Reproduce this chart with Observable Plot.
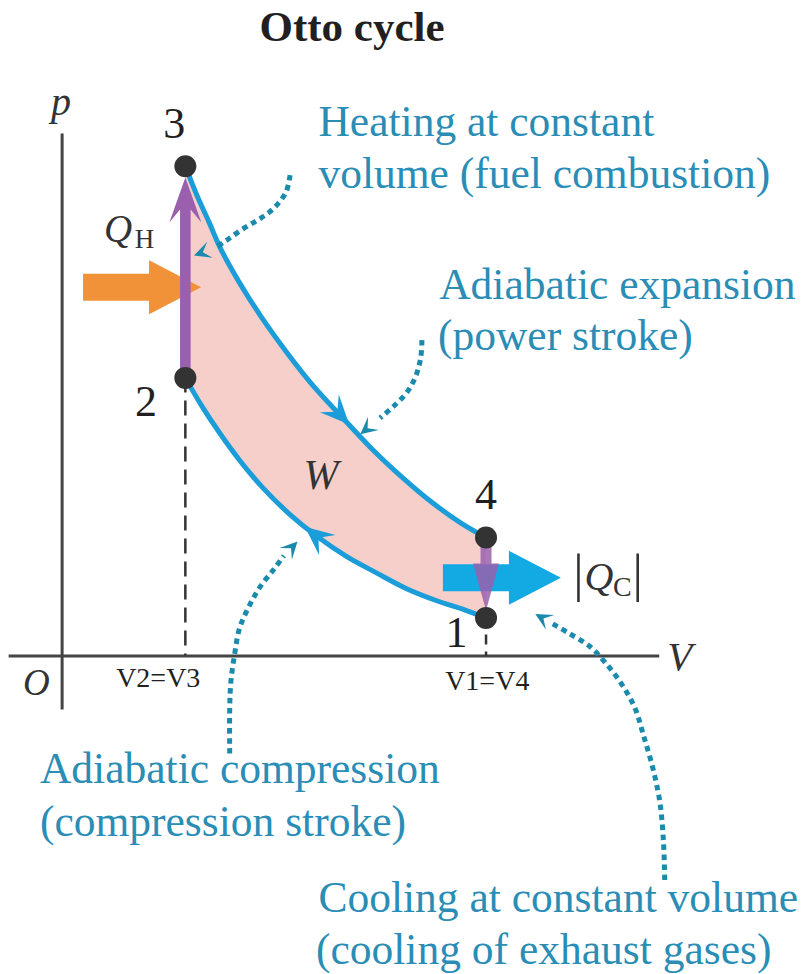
<!DOCTYPE html>
<html>
<head>
<meta charset="utf-8">
<script src="https://cdn.jsdelivr.net/npm/d3@7"></script>
<script src="https://cdn.jsdelivr.net/npm/@observablehq/plot@0.6"></script>
<style>
  html, body { margin: 0; padding: 0; background: #fff; overflow: hidden; }
  #title {
    width: 704px; height: 58px;
    font-family: "Liberation Serif", "Times New Roman", serif;
    font-weight: bold; font-size: 43px; line-height: 53px;
    text-align: center; color: #231f20;
  }
  #chart svg { display: block; }
</style>
</head>
<body>
<div id="title">Otto cycle</div>
<div id="chart"></div>
<script>
// ---------------- data (V and p in arbitrary units) ----------------
const stateLabels = ["1", "2", "3", "4"];
const stateV = [3.44, 1.00, 1.00, 3.44];
const stateP = [0.78, 5.68, 10.00, 2.42];

// adiabatic expansion 3 -> 4
const expansionV = [1.00, 1.09, 1.19, 1.29, 1.44, 1.62, 1.82, 2.04, 2.27, 2.51, 2.76, 3.00, 3.24, 3.44];
const expansionP = [10.00, 9.43, 8.87, 8.30, 7.62, 6.91, 6.21, 5.51, 4.88, 4.24, 3.65, 3.14, 2.71, 2.42];
// adiabatic compression 1 -> 2
const compressionV = [3.44, 3.27, 3.04, 2.80, 2.55, 2.31, 2.07, 1.84, 1.62, 1.44, 1.28, 1.13, 1.00];
const compressionP = [0.78, 0.94, 1.13, 1.37, 1.70, 2.03, 2.44, 2.91, 3.46, 4.00, 4.55, 5.12, 5.68];

// direction markers on the two adiabats
const chevronV = [2.33, 1.97];
const chevronP = [4.73, 2.64];

// heat flow block arrows (start points): Q_H in, |Q_C| out
const heatFlowV = [0.17, 3.09];
const heatFlowP = [7.53, 1.60];
// tips of the constant-volume process arrows
const heatingTipP = 9.77;
const coolingTipP = 0.93;

// dotted leader paths (last point = arrow tip)
const heatingPathV = [1.85, 1.82, 1.76, 1.68, 1.58, 1.46, 1.33, 1.23, 1.07];
const heatingPathP = [9.82, 9.49, 9.26, 9.06, 8.89, 8.71, 8.48, 8.32, 8.18];
const powerPathV = [2.92, 2.91, 2.87, 2.80, 2.69, 2.58, 2.42];
const powerPathP = [6.45, 6.09, 5.72, 5.39, 5.10, 4.86, 4.53];
const compressPathV = [1.36, 1.36, 1.37, 1.40, 1.44, 1.51, 1.60, 1.72, 1.80, 1.91];
const compressPathP = [-1.99, -1.07, -0.51, 0.04, 0.57, 0.98, 1.39, 1.78, 2.05, 2.34];
const coolingPathV = [4.89, 4.88, 4.85, 4.79, 4.72, 4.65, 4.54, 4.41, 4.28, 4.11, 3.98, 3.84];
const coolingPathP = [-4.57, -3.79, -2.97, -2.25, -1.64, -1.07, -0.57, -0.14, 0.20, 0.47, 0.66, 0.86];

// annotation texts
const annotationText = ["Heating at constant", "volume (fuel combustion)", "Adiabatic expansion", "(power stroke)",
                        "Adiabatic compression", "(compression stroke)", "Cooling at constant volume", "(cooling of exhaust gases)"];
const annotationV = [2.08, 2.08, 3.06, 3.05, -0.18, -0.18, 2.08, 2.06];
const annotationP = [10.61, 9.55, 7.30, 6.24, -2.60, -3.68, -5.23, -6.28];

// state number labels
const stateLabelV = [3.20, 0.68, 0.91, 3.44];
const stateLabelP = [0.18, 4.91, 10.57, 3.01];

// axis tick labels
const tickLabels = ["V2=V3", "V1=V4"];
const tickV = [0.78, 3.45];
const tickP = [-0.64, -0.70];

// axis extents
const axisV = [-0.43, 4.85];
const axisP = [-1.10, 10.66];

// ---------------- scales ----------------
const W = 801, H = 916;
const xDomain = [-0.5, 6.0], yDomain = [-6.5, 12.2];
const sx = d3.scaleLinear(xDomain, [0, W]);
const sy = d3.scaleLinear(yDomain, [H, 0]);

const zip = (vs, ps) => vs.map((v, i) => ({v, p: ps[i]}));
const dirAngle = (a, b) => Math.atan2(sx(b.v) - sx(a.v), -(sy(b.p) - sy(a.p))) * 180 / Math.PI;

const states = stateLabels.map((t, i) => ({t, v: stateV[i], p: stateP[i], lv: stateLabelV[i], lp: stateLabelP[i]}));
const expansion = zip(expansionV, expansionP);
const compression = zip(compressionV, compressionP);

// tangent direction on a curve at v (in the direction of the array order)
function tangentAt(curve, v) {
  for (let i = 0; i < curve.length - 1; i++) {
    const a = curve[i], b = curve[i + 1];
    if ((v - a.v) * (v - b.v) <= 0) return dirAngle(a, b);
  }
  return 0;
}
const chevrons = [
  {v: chevronV[0], p: chevronP[0], a: tangentAt(expansion, chevronV[0])},
  {v: chevronV[1], p: chevronP[1], a: tangentAt(compression, chevronV[1])}
];

const leaderPaths = [
  zip(heatingPathV, heatingPathP), zip(powerPathV, powerPathP),
  zip(compressPathV, compressPathP), zip(coolingPathV, coolingPathP)
];
const leaderLines = leaderPaths.map(path => path.slice(0, -1));
const leaderHeads = leaderPaths.map(path => {
  const n = path.length;
  return {v: path[n - 1].v, p: path[n - 1].p, a: dirAngle(path[n - 2], path[n - 1])};
});

const annotations = annotationText.map((t, i) => ({t, v: annotationV[i], p: annotationP[i]}));
const ticks = tickLabels.map((t, i) => ({t, v: tickV[i], p: tickP[i]}));

// ---------------- shapes for Plot.vector ----------------
const blockArrow = {
  draw(c, l) {
    const hl = 52, hw = 27, sw = 13.5;
    c.moveTo(-sw, 0); c.lineTo(-sw, -(l - hl)); c.lineTo(-hw, -(l - hl)); c.lineTo(0, -l);
    c.lineTo(hw, -(l - hl)); c.lineTo(sw, -(l - hl)); c.lineTo(sw, 0); c.closePath();
  }
};
const barbHead = (w, notch) => ({
  draw(c, l) {
    c.moveTo(0, 0); c.lineTo(w, l); c.lineTo(0, l * notch); c.lineTo(-w, l); c.closePath();
  }
});
const barbShaft = {
  draw(c, l) {
    const sw = 5.3, hl = 45, nl = 32, hw = 16;
    c.moveTo(-sw, 0); c.lineTo(-sw, -(l - nl)); c.lineTo(-hw, -(l - hl)); c.lineTo(0, -l);
    c.lineTo(hw, -(l - hl)); c.lineTo(sw, -(l - nl)); c.lineTo(sw, 0); c.closePath();
  }
};
const triShaft = {
  draw(c, l) {
    const sw = 5.5, hl = 47, hw = 13;
    c.moveTo(-sw, 0); c.lineTo(-sw, -(l - hl)); c.lineTo(-hw, -(l - hl)); c.lineTo(0, -l);
    c.lineTo(hw, -(l - hl)); c.lineTo(sw, -(l - hl)); c.lineTo(sw, 0); c.closePath();
  }
};

// ---------------- styles ----------------
const serif = "'Liberation Serif', 'Times New Roman', serif";
const ink = "#231f20";
const curveBlue = "#1b9dd9";
const leaderBlue = "#1a8aad";
const textBlue = "#2a8db6";
const purple = "#9a60ad";

const p2 = stateP[1], p4 = stateP[3];
const upLen = sy(p2) - sy(heatingTipP);
const downLen = sy(coolingTipP) - sy(p4);

const marks = [
  // cycle area
  Plot.line(expansion.concat(compression), {x: "v", y: "p", fill: "#f7cfca", stroke: "none", curve: "linear-closed"}),
  // axes
  Plot.ruleX([0], {y1: axisP[0], y2: axisP[1], stroke: "#444", strokeWidth: 3}),
  Plot.ruleY([0], {x1: axisV[0], x2: axisV[1], stroke: "#444", strokeWidth: 3}),
  // dashed volume markers
  Plot.ruleX([stateV[1]], {y1: stateP[1], y2: 0, stroke: "#333", strokeWidth: 2.5, strokeDasharray: "15,8"}),
  Plot.ruleX([stateV[0]], {y1: stateP[0], y2: 0, stroke: "#333", strokeWidth: 2.5, strokeDasharray: "10,7"}),
  // adiabats
  Plot.line(expansion, {x: "v", y: "p", stroke: curveBlue, strokeWidth: 5, curve: "catmull-rom"}),
  Plot.line(compression, {x: "v", y: "p", stroke: curveBlue, strokeWidth: 5, curve: "catmull-rom"}),
  // heat in (orange)
  Plot.vector([{v: heatFlowV[0], p: heatFlowP[0]}], {x: "v", y: "p", anchor: "start", rotate: 90, length: 118,
    shape: blockArrow, fill: "#f19138", stroke: "none"}),
  // 2 -> 3
  Plot.vector([{v: stateV[1], p: p2}], {x: "v", y: "p", anchor: "start", rotate: 0, length: upLen,
    shape: barbShaft, fill: purple, stroke: "none"}),
  // heat out (cyan)
  Plot.vector([{v: heatFlowV[1], p: heatFlowP[1]}], {x: "v", y: "p", anchor: "start", rotate: 90, length: 118,
    shape: blockArrow, fill: "#13a9e3", stroke: "none"}),
  // 4 -> 1
  Plot.vector([{v: stateV[3], p: p4}], {x: "v", y: "p", anchor: "start", rotate: 180, length: downLen,
    shape: triShaft, fill: purple, fillOpacity: 0.85, stroke: "none"}),
  // direction chevrons
  Plot.vector(chevrons, {x: "v", y: "p", rotate: "a", anchor: "start", length: 29,
    shape: barbHead(13, 0.6), fill: curveBlue, stroke: "none"}),
  // state points
  Plot.dot(states, {x: "v", y: "p", r: 11, fill: "#333", stroke: "none"}),
  // leader lines
  ...leaderLines.map(path => Plot.line(path, {x: "v", y: "p", stroke: leaderBlue, strokeWidth: 5,
    strokeDasharray: "5.5,4.5", strokeLinecap: "butt", curve: "catmull-rom"})),
  Plot.vector(leaderHeads, {x: "v", y: "p", rotate: "a", anchor: "start", length: 17,
    shape: barbHead(8.5, 0.55), fill: leaderBlue, stroke: "none"}),
  // annotation texts
  Plot.text(annotations, {x: "v", y: "p", text: "t", textAnchor: "start", lineAnchor: "bottom",
    fontSize: 43.5, fontFamily: serif, fill: textBlue}),
  // state numbers
  Plot.text(states, {x: "lv", y: "lp", text: "t", textAnchor: "middle", lineAnchor: "bottom",
    fontSize: 44, fontFamily: serif, fill: ink}),
  // tick labels
  Plot.text(ticks, {x: "v", y: "p", text: "t", textAnchor: "middle", lineAnchor: "bottom",
    fontSize: 28, fontFamily: serif, fill: ink}),
  // axis symbols & quantities
  Plot.text(["p"], {x: -0.01, y: 11.04, text: d => d, textAnchor: "middle", lineAnchor: "bottom",
    fontSize: 40, fontStyle: "italic", fontFamily: serif, fill: "#333"}),
  Plot.text(["V"], {x: 4.91, y: -0.29, text: d => d, textAnchor: "start", lineAnchor: "bottom",
    fontSize: 41, fontStyle: "italic", fontFamily: serif, fill: "#333"}),
  Plot.text(["O"], {x: -0.21, y: -0.80, text: d => d, textAnchor: "middle", lineAnchor: "bottom",
    fontSize: 37, fontStyle: "italic", fontFamily: serif, fill: "#333"}),
  Plot.text(["W"], {x: 2.10, y: 3.42, text: d => d, textAnchor: "middle", lineAnchor: "bottom",
    fontSize: 42, fontStyle: "italic", fontFamily: serif, fill: "#333"}),
  // Q_H
  Plot.text(["Q"], {x: 0.34, y: 8.46, text: d => d, textAnchor: "start", lineAnchor: "bottom",
    fontSize: 39, fontStyle: "italic", fontFamily: serif, fill: "#333"}),
  Plot.text(["H"], {x: 0.59, y: 8.34, text: d => d, textAnchor: "start", lineAnchor: "bottom",
    fontSize: 27, fontFamily: serif, fill: "#333"}),
  // |Q_C|
  Plot.text(["|", "|"], {x: [4.19, 4.67], y: [1.32, 1.32], text: d => d, textAnchor: "middle", lineAnchor: "bottom",
    fontSize: 52, fontFamily: serif, fill: "#333"}),
  Plot.text(["Q"], {x: 4.24, y: 1.34, text: d => d, textAnchor: "start", lineAnchor: "bottom",
    fontSize: 40, fontStyle: "italic", fontFamily: serif, fill: "#333"}),
  Plot.text(["C"], {x: 4.47, y: 1.22, text: d => d, textAnchor: "start", lineAnchor: "bottom",
    fontSize: 28, fontFamily: serif, fill: "#333"})
];

const chart = Plot.plot({
  width: W, height: H, margin: 0,
  x: {domain: xDomain, range: [0, W], axis: null},
  y: {domain: yDomain, range: [H, 0], axis: null},
  style: {background: "#fff", overflow: "visible"},
  marks
});
document.getElementById("chart").appendChild(chart);
</script>
</body>
</html>
